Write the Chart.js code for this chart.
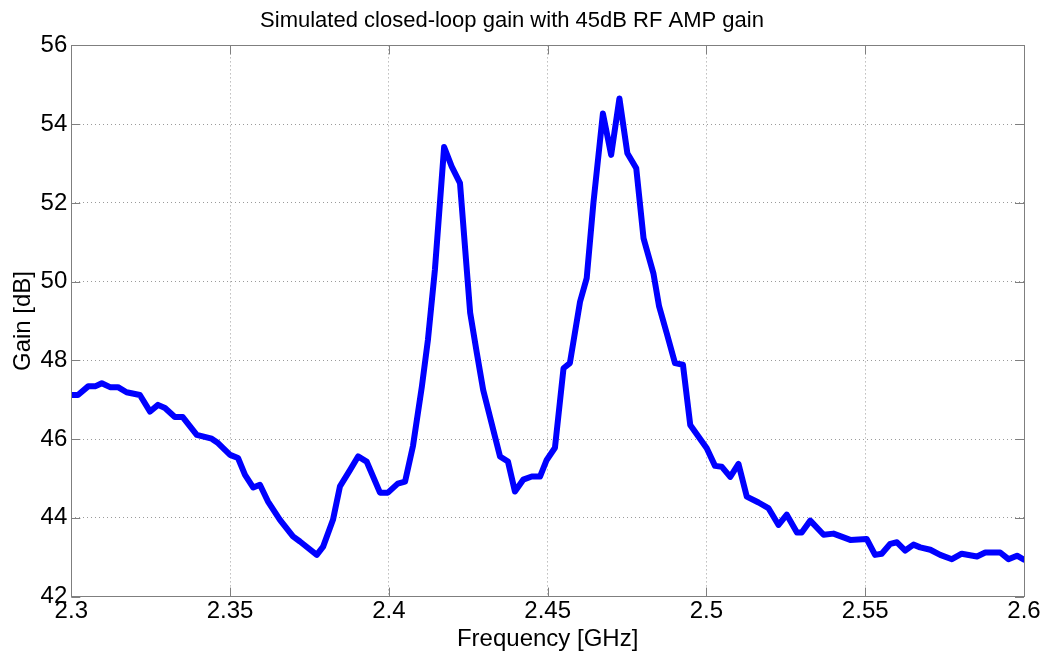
<!DOCTYPE html>
<html>
<head>
<meta charset="utf-8">
<title>Simulated closed-loop gain</title>
<script src="https://cdn.jsdelivr.net/npm/chart.js@4"></script>
<style>
  html, body { margin: 0; padding: 0; background: #fff; }
  canvas { display: block; }
</style>
</head>
<body>
<canvas id="gain-chart" width="1049" height="656"></canvas>
<script>
// values
const freqGHz = [
  2.3000, 2.3021, 2.3053, 2.3075, 2.3096, 2.3122, 2.3147, 2.3174, 2.3216, 2.3248,
  2.3273, 2.3295, 2.3326, 2.3351, 2.3395, 2.3442, 2.3462, 2.3500, 2.3525, 2.3547,
  2.3573, 2.3594, 2.3619, 2.3657, 2.3698, 2.3720, 2.3773, 2.3793, 2.3824, 2.3846,
  2.3878, 2.3903, 2.3930, 2.3972, 2.3997, 2.4028, 2.4051, 2.4076, 2.4104, 2.4123,
  2.4145, 2.4174, 2.4198, 2.4224, 2.4256, 2.4277, 2.4297, 2.4350, 2.4375, 2.4397,
  2.4423, 2.4450, 2.4476, 2.4497, 2.4523, 2.4550, 2.4570, 2.4602, 2.4623, 2.4644,
  2.4674, 2.4700, 2.4726, 2.4751, 2.4779, 2.4802, 2.4833, 2.4851, 2.4875, 2.4901,
  2.4926, 2.4949, 2.5001, 2.5027, 2.5048, 2.5075, 2.5101, 2.5127, 2.5164, 2.5195,
  2.5227, 2.5253, 2.5285, 2.5300, 2.5327, 2.5369, 2.5400, 2.5453, 2.5505, 2.5531,
  2.5552, 2.5579, 2.5600, 2.5626, 2.5652, 2.5673, 2.5705, 2.5736, 2.5773, 2.5804,
  2.5852, 2.5878, 2.5925, 2.5951, 2.5978, 2.6000
];

const gainDb = [
  47.12, 47.12, 47.34, 47.34, 47.42, 47.32, 47.32, 47.19, 47.12, 46.70,
  46.87, 46.79, 46.56, 46.56, 46.11, 46.01, 45.90, 45.60, 45.52, 45.09,
  44.77, 44.84, 44.42, 43.95, 43.53, 43.40, 43.06, 43.27, 43.95, 44.80,
  45.22, 45.56, 45.43, 44.64, 44.64, 44.87, 44.92, 45.83, 47.34, 48.52,
  50.30, 53.42, 52.92, 52.50, 49.21, 48.19, 47.25, 45.56, 45.43, 44.67,
  44.97, 45.05, 45.05, 45.47, 45.78, 47.80, 47.93, 49.49, 50.09, 51.99,
  54.27, 53.22, 54.65, 53.26, 52.88, 51.10, 50.21, 49.37, 48.69, 47.93,
  47.89, 46.36, 45.77, 45.32, 45.30, 45.04, 45.37, 44.54, 44.39, 44.25,
  43.82, 44.08, 43.63, 43.63, 43.93, 43.57, 43.60, 43.44, 43.46, 43.06,
  43.09, 43.34, 43.38, 43.17, 43.32, 43.25, 43.19, 43.06, 42.95, 43.09,
  43.02, 43.12, 43.12, 42.95, 43.04, 42.94
];

const xTicks = [2.3, 2.35, 2.4, 2.45, 2.5, 2.55, 2.6];
const xTickLabels = ['2.3', '2.35', '2.4', '2.45', '2.5', '2.55', '2.6'];
const yTicks = [42, 44, 46, 48, 50, 52, 54, 56];

const FONT = "'Liberation Sans', Arial, Helvetica, sans-serif";
const AXIS_COLOR = '#7f7f7f';
const GRID_COLOR = '#9a9a9a';

// MATLAB style box with inward tick marks on all four sides
const boxPlugin = {
  id: 'matlabBox',
  afterDatasetsDraw(chart) {
    const { ctx, chartArea: a, scales } = chart;
    const len = 9;
    ctx.save();
    ctx.strokeStyle = AXIS_COLOR;
    ctx.lineWidth = 1;
    ctx.setLineDash([]);
    ctx.beginPath();
    xTicks.forEach(v => {
      const px = Math.round(scales.x.getPixelForValue(v)) + 0.5;
      ctx.moveTo(px, a.bottom); ctx.lineTo(px, a.bottom - len);
      ctx.moveTo(px, a.top); ctx.lineTo(px, a.top + len);
    });
    yTicks.forEach(v => {
      const py = Math.round(scales.y.getPixelForValue(v)) + 0.5;
      ctx.moveTo(a.left, py); ctx.lineTo(a.left + len, py);
      ctx.moveTo(a.right, py); ctx.lineTo(a.right - len, py);
    });
    ctx.stroke();
    ctx.strokeRect(Math.round(a.left) + 0.5, Math.round(a.top) + 0.5,
      Math.round(a.right - a.left), Math.round(a.bottom - a.top));
    ctx.restore();
  }
};

const ctx = document.getElementById('gain-chart').getContext('2d');
new Chart(ctx, {
  type: 'line',
  data: {
    datasets: [{
      data: freqGHz.map((f, i) => ({ x: f, y: gainDb[i] })),
      borderColor: '#0000ff',
      borderWidth: 6,
      borderJoinStyle: 'round',
      borderCapStyle: 'round',
      pointRadius: 0,
      tension: 0,
      fill: false
    }]
  },
  options: {
    responsive: false,
    animation: false,
    layout: { padding: { left: 0, right: 25, top: 0, bottom: 0 } },
    plugins: {
      legend: { display: false },
      tooltip: { enabled: false },
      title: {
        display: true,
        text: 'Simulated closed-loop gain with 45dB RF AMP gain',
        color: '#000',
        font: { family: FONT, size: 22, weight: 'normal' },
        padding: { top: 8, bottom: 11 }
      }
    },
    scales: {
      x: {
        type: 'linear',
        min: 2.3,
        max: 2.6,
        afterBuildTicks(scale) {
          scale.ticks = xTicks.map(v => ({ value: v }));
        },
        afterFit(scale) { scale.height = 59.4; },
        grid: {
          color: GRID_COLOR,
          lineWidth: 1,
          drawTicks: false
        },
        border: { display: false, dash: [1, 3] },
        ticks: {
          color: '#000',
          font: { family: FONT, size: 24 },
          padding: 0,
          maxRotation: 0,
          callback: (v) => xTickLabels[xTicks.indexOf(v)] ?? String(v)
        },
        title: {
          display: true,
          text: 'Frequency [GHz]',
          color: '#000',
          font: { family: FONT, size: 24 },
          padding: { top: 0, bottom: 2 }
        }
      },
      y: {
        min: 42,
        max: 56,
        afterBuildTicks(scale) {
          scale.ticks = yTicks.map(v => ({ value: v }));
        },
        afterFit(scale) { scale.width = 71.3; },
        grid: {
          color: GRID_COLOR,
          lineWidth: 1,
          drawTicks: false
        },
        border: { display: false, dash: [1, 3] },
        ticks: {
          color: '#000',
          font: { family: FONT, size: 24 },
          padding: 4
        },
        title: {
          display: true,
          text: 'Gain [dB]',
          color: '#000',
          font: { family: FONT, size: 24 },
          padding: { top: 9, bottom: 0 }
        }
      }
    }
  },
  plugins: [boxPlugin]
});
</script>
</body>
</html>
